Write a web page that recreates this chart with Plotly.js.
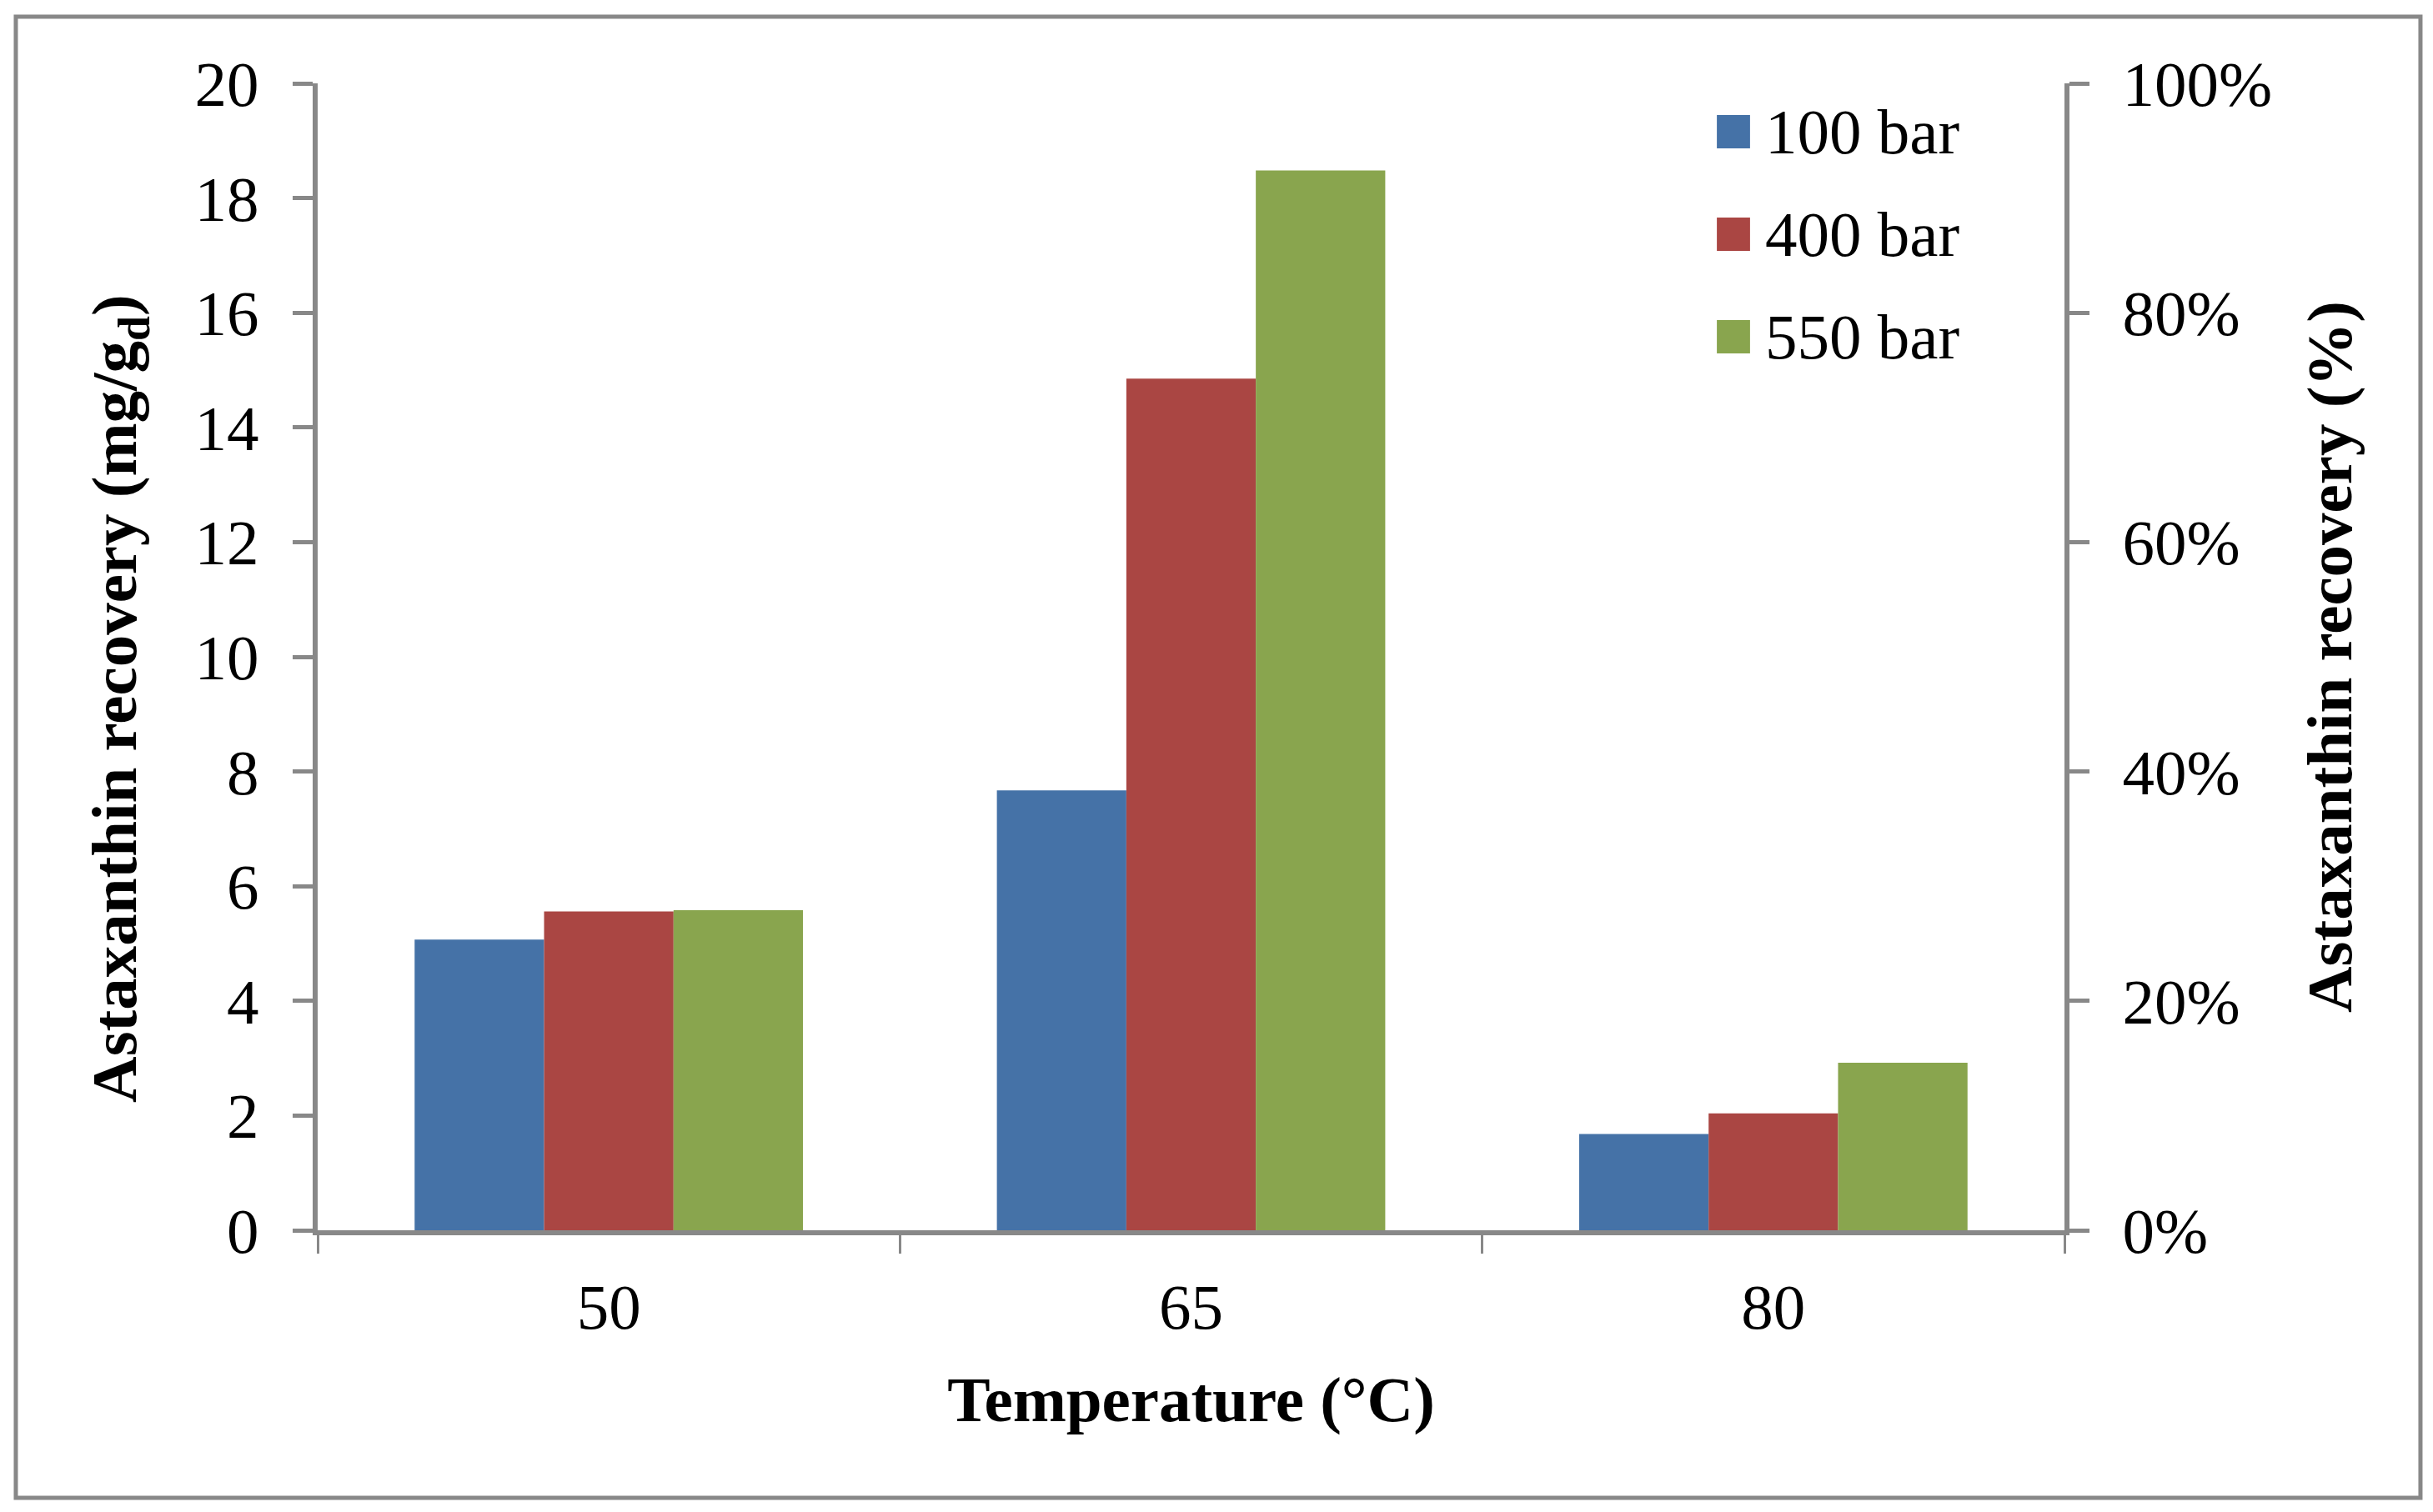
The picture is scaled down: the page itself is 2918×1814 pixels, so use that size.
<!DOCTYPE html>
<html>
<head>
<meta charset="utf-8">
<script src="https://cdn.plot.ly/plotly-3.0.1.min.js"></script>
<style>
    html, body { margin: 0; padding: 0; background: #fff; overflow: hidden; }
    #chart { width: 2918px; height: 1814px; }
</style>
</head>
<body>
<div id="chart"></div>
<script>
// values (mg/g dry weight)
var temperatures = ['50', '65', '80'];
var pressures = ['100 bar', '400 bar', '550 bar'];
var recovery100 = [5.07, 7.67, 1.68];
var recovery400 = [5.56, 14.85, 2.04];
var recovery550 = [5.58, 18.48, 2.92];
var barColors = ['#4572A7', '#AA4643', '#89A54E'];

var leftTicks = [0, 2, 4, 6, 8, 10, 12, 14, 16, 18, 20];
var rightTicks = [0, 0.2, 0.4, 0.6, 0.8, 1.0];
var rightTickLabels = ['0%', '20%', '40%', '60%', '80%', '100%'];

var axisGrey = '#888888';
var serif = '"Liberation Serif", "Times New Roman", serif';

var seriesValues = [recovery100, recovery400, recovery550];
var data = [];
for (var i = 0; i < pressures.length; i++) {
    data.push({
        type: 'bar',
        name: pressures[i],
        x: temperatures,
        y: seriesValues[i],
        marker: {color: barColors[i], line: {width: 0}},
        hoverinfo: 'x+y+name'
    });
}
// empty helper trace so the right (%) axis gets drawn
data.push({
    type: 'scatter',
    mode: 'lines',
    x: temperatures,
    y: [null, null, null],
    yaxis: 'y2',
    showlegend: false,
    hoverinfo: 'skip'
});

// legend built by hand so the swatches can be as big as in the original
var shapes = [{
    type: 'rect', xref: 'paper', yref: 'paper',
    x0: -0.1728, x1: 1.2038, y0: -0.2333, y1: 1.0581,
    line: {color: axisGrey, width: 5}, fillcolor: 'rgba(0,0,0,0)'
}];
var annotations = [{
    xref: 'paper', yref: 'paper',
    x: -0.1136, y: 0.4637,
    xanchor: 'center', yanchor: 'middle',
    textangle: -90, showarrow: false,
    text: '<b>Astaxanthin recovery (mg/g<sub>d</sub>)</b>',
    font: {family: serif, size: 77, color: '#000'}
}];
var legendTop = [158, 281, 404];
for (var k = 0; k < pressures.length; k++) {
    var yc = (1476 - legendTop[k]) / 1376;
    shapes.push({
        type: 'rect', xref: 'paper', yref: 'paper',
        x0: 0.8010, x1: 0.8200, y0: yc - 20 / 1376, y1: yc + 20 / 1376,
        fillcolor: barColors[k], line: {width: 0}
    });
    annotations.push({
        xref: 'paper', yref: 'paper',
        x: 0.8276, y: yc, xanchor: 'left', yanchor: 'middle',
        showarrow: false, text: pressures[k],
        font: {family: serif, size: 77, color: '#000'}
    });
}

var layout = {
    width: 2918,
    height: 1814,
    margin: {l: 381, r: 442, t: 100, b: 338},
    paper_bgcolor: '#fff',
    plot_bgcolor: '#fff',
    font: {family: serif, size: 77, color: '#000'},
    showlegend: false,
    barmode: 'group',
    bargap: 0.333,
    bargroupgap: 0,
    xaxis: {
        type: 'category',
        range: [-0.5, 2.5],
        showline: true, linecolor: axisGrey, linewidth: 6,
        ticks: 'outside', tickson: 'boundaries',
        ticklen: 22, tickwidth: 3, tickcolor: axisGrey,
        ticklabelstandoff: 20,
        showgrid: false, zeroline: false,
        title: {text: '<b>Temperature (°C)</b>', standoff: 43, font: {size: 77}}
    },
    yaxis: {
        range: [0, 20],
        tickvals: leftTicks,
        showline: true, linecolor: axisGrey, linewidth: 6,
        ticks: 'outside', ticklen: 24, tickwidth: 5, tickcolor: axisGrey,
        ticklabelstandoff: 25,
        showgrid: false, zeroline: false
    },
    yaxis2: {
        overlaying: 'y',
        side: 'right',
        range: [0, 1],
        tickvals: rightTicks,
        ticktext: rightTickLabels,
        showline: true, linecolor: axisGrey, linewidth: 6,
        ticks: 'outside', ticklen: 24, tickwidth: 5, tickcolor: axisGrey,
        ticklabelstandoff: 24,
        showgrid: false, zeroline: false,
        title: {text: '<b>Astaxanthin recovery (%)</b>', standoff: 44, font: {size: 77}}
    },
    shapes: shapes,
    annotations: annotations
};

Plotly.newPlot('chart', data, layout, {displayModeBar: false, staticPlot: true});
</script>
</body>
</html>
